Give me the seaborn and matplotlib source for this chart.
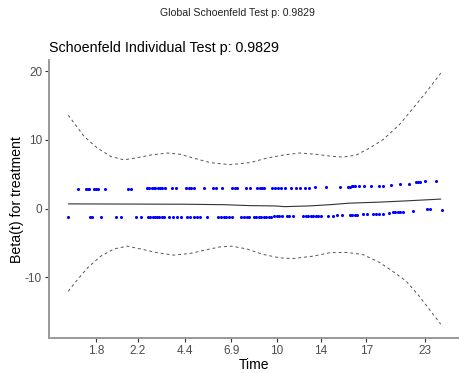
import matplotlib
matplotlib.use("Agg")
import matplotlib.pyplot as plt
import seaborn as sns
import pandas as pd

# ---- data (transformed time scale) ----
tick_pos = [46, 88, 136, 182, 228, 272, 318, 377]
tick_labels = ["1.8", "2.2", "4.4", "6.9", "10", "14", "17", "23"]

upper_x = [28.5, 36.5, 38, 39.5, 44.5, 46.5, 48, 55.5, 78.5, 81, 97.5, 99.5, 102, 104, 106,
           108.5, 110.5, 113, 115.5, 122.5, 127, 137, 139.5, 142, 145, 154.5, 163.5, 167,
           172.5, 183, 185.5, 188, 197, 201, 208, 211, 213, 215.5, 223, 226, 229, 232.5,
           236, 242.5, 247, 251, 256, 260, 266, 277.5, 291, 299.5, 301, 303, 304.5, 306,
           311, 316, 322.5, 331, 334.5, 342.5, 352, 360.5, 367.5, 370, 372, 376.5, 387.5]
upper_y = [2.9, 2.9, 2.9, 2.9, 2.9, 2.9, 2.9, 2.9, 2.9, 2.9, 2.95, 2.95, 2.95, 2.95, 2.95,
           2.95, 2.95, 2.95, 2.95, 2.95, 2.95, 3.0, 3.0, 3.0, 3.0, 3.0, 3.0, 3.0,
           3.0, 3.0, 3.0, 3.0, 3.0, 3.0, 3.0, 3.0, 3.0, 3.0, 3.0, 3.0, 3.0, 3.0,
           3.0, 3.0, 3.0, 3.0, 3.0, 3.05, 3.1, 3.1, 3.1, 3.2, 3.2, 3.25, 3.25, 3.25,
           3.3, 3.3, 3.35, 3.35, 3.35, 3.4, 3.55, 3.65, 3.85, 3.85, 3.9, 4.0, 4.0]

lower_x = [18, 40, 42, 51, 66, 71, 86, 91, 98, 100.5, 103, 105, 107.5, 110, 112.5, 115, 120,
           124, 128, 132, 138, 141, 144.5, 148, 151, 158, 169, 172, 174.5, 177, 179.5, 183,
           192, 195, 197.5, 200, 205, 207.5, 210, 212.5, 215, 217.5, 220, 222.5, 225, 228,
           230.5, 233, 238, 240.5, 244.5, 254, 257, 259.5, 262, 264.5, 267, 269.5, 272,
           279.5, 284, 288, 293, 301, 303.5, 306, 308.5, 314.5, 319, 324.5, 328, 331, 335,
           341, 345, 347, 349.5, 352, 354.5, 364.5, 378.5, 381.5, 393.5]
lower_y = [-1.2, -1.2, -1.2, -1.2, -1.2, -1.2, -1.2, -1.2, -1.2, -1.2, -1.2, -1.2, -1.2, -1.2, -1.2, -1.2, -1.2,
           -1.2, -1.2, -1.2, -1.2, -1.2, -1.2, -1.2, -1.2, -1.2, -1.15, -1.15, -1.15, -1.15, -1.15, -1.15,
           -1.15, -1.15, -1.15, -1.15, -1.15, -1.15, -1.15, -1.15, -1.15, -1.15, -1.15, -1.15, -1.1, -1.1,
           -1.1, -1.1, -1.1, -1.1, -1.1, -1.05, -1.05, -1.05, -1.05, -1.05, -1.0, -1.0, -1.0,
           -1.0, -1.0, -0.95, -0.95, -0.87, -0.87, -0.87, -0.87, -0.8, -0.8, -0.77, -0.77, -0.77, -0.75,
           -0.6, -0.55, -0.55, -0.53, -0.5, -0.5, -0.4, -0.05, -0.05, -0.15]

band_up_x = [18.3, 34.3, 47.7, 61, 74.3, 91, 101, 117.7, 131, 144.3, 161, 181, 201, 217.7,
             234.3, 251, 267.7, 284.3, 294.3, 307.7, 321, 334.3, 351, 367.7, 381, 392.7]
band_up_y = [13.6, 10.5, 8.8, 7.6, 7.1, 7.5, 7.8, 8.1, 7.9, 7.35, 6.7, 6.4, 6.7, 7.35,
             7.8, 8.1, 7.9, 7.6, 7.5, 7.8, 8.8, 10.0, 12.2, 15.1, 17.5, 19.7]

band_lo_x = [18.3, 27.7, 37.7, 51, 64.3, 77.7, 91, 107.7, 124.3, 141, 157.7, 171, 182.7, 197.7,
             214.3, 231, 244.3, 264.3, 281, 297.7, 314.3, 331, 344.3, 357.7, 371, 381, 392.7]
band_lo_y = [-12.0, -10.3, -8.6, -6.9, -5.85, -5.45, -5.85, -6.4, -6.75, -6.5, -5.95, -5.55, -5.45, -5.85,
             -6.65, -7.15, -7.25, -6.9, -6.4, -6.35, -6.65, -7.8, -9.1, -10.5, -12.7, -14.6, -16.8]

fit_x = [18.3, 136, 176, 200, 226, 236, 260, 283, 300, 330, 360, 392.7]
fit_y = [0.7, 0.65, 0.58, 0.45, 0.4, 0.3, 0.4, 0.6, 0.8, 0.95, 1.15, 1.4]

# ---- plotting ----
sns.set_style("white")
plt.rcParams['font.family'] = ['Liberation Sans', 'DejaVu Sans']

fig = plt.figure(figsize=(4.59, 3.73), dpi=100)
ax = fig.add_axes([0.1068, 0.0938, 0.8932, 0.745])

pts = pd.DataFrame({"x": upper_x + lower_x, "y": upper_y + lower_y})
sns.scatterplot(data=pts, x="x", y="y", ax=ax, color="#0000FF", s=5, linewidth=0, zorder=3)

sns.lineplot(x=fit_x, y=fit_y, ax=ax, color="#333333", linewidth=0.8, sort=False,
             estimator=None, zorder=2)
sns.lineplot(x=band_up_x, y=band_up_y, ax=ax, color="#555555", linewidth=0.7, sort=False,
             estimator=None, linestyle=(0, (3, 3)), zorder=2)
sns.lineplot(x=band_lo_x, y=band_lo_y, ax=ax, color="#555555", linewidth=0.7, sort=False,
             estimator=None, linestyle=(0, (3, 3)), zorder=2)

ax.set_xlim(-1, 411)
ax.set_ylim(-18.8, 21.6)
ax.set_xticks(tick_pos)
ax.set_xticklabels(tick_labels)
ax.set_yticks([-10, 0, 10, 20])
ax.set_yticklabels(["-10", "0", "10", "20"])
ax.tick_params(axis="both", which="both", direction="out", length=3, width=0.8,
               color="#333333", labelsize=8.5, labelcolor="#4D4D4D", pad=2, bottom=True, left=True)

for side in ["top", "right"]:
    ax.spines[side].set_visible(False)
for side in ["left", "bottom"]:
    ax.spines[side].set_color("#999999")
    ax.spines[side].set_linewidth(1.4)

ax.set_xlabel("Time", fontsize=10, color="black", labelpad=1)
ax.set_ylabel("Beta(t) for treatment", fontsize=10.2, color="black", labelpad=1)
ax.set_title("Schoenfeld Individual Test p: 0.9829", loc="left", fontsize=10.3, pad=6, color="black")
fig.text(0.517, 0.965, "Global Schoenfeld Test p: 0.9829", ha="center", va="center",
         fontsize=7.6, color="#222222")

fig.savefig("out.png", dpi=100, facecolor="white")
